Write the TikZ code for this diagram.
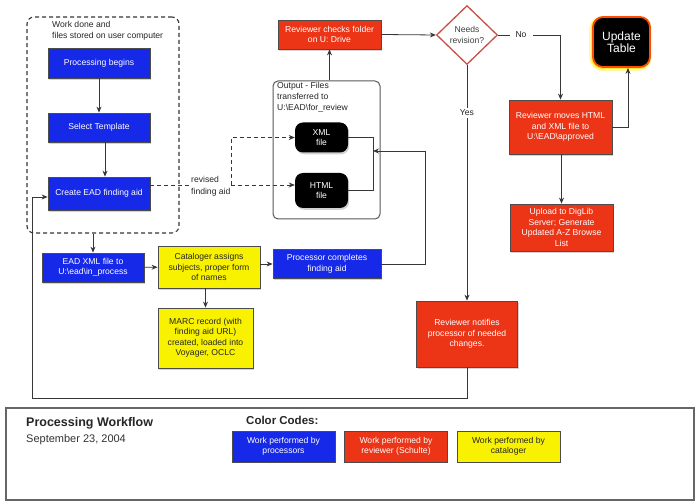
\documentclass[tikz,border=0pt]{standalone}
\usepackage{fontspec}
\setmainfont{Liberation Sans}
\usetikzlibrary{arrows.meta,shapes.geometric,shadows}
\definecolor{pblue}{RGB}{22,40,232}
\definecolor{pred}{RGB}{236,52,22}
\definecolor{pyel}{RGB}{248,242,0}
\definecolor{lineg}{RGB}{55,55,55}
\definecolor{diared}{RGB}{200,80,70}
\newcommand\boxfont{\fontsize{8.6}{10.5}\selectfont}
\begin{document}
\begin{tikzpicture}[x=1pt,y=-1pt,
  box/.style={draw=black!70, line width=0.8pt, inner sep=1pt, align=center, font=\boxfont,
    drop shadow={shadow xshift=1.2pt, shadow yshift=-1.8pt, opacity=0.35}},
  bluebox/.style={box, fill=pblue, text=white},
  redbox/.style={box, fill=pred, text=white},
  yelbox/.style={box, fill=pyel, text=black!85},
  legbox/.style={draw=black!70, line width=0.8pt, inner sep=1pt, align=center, font=\boxfont,
    minimum width=103pt, minimum height=31pt},
  filebox/.style={fill=black, rounded corners=8pt, text=white, align=center, font=\boxfont,
    minimum width=53pt, drop shadow={shadow xshift=1.2pt, shadow yshift=-1.8pt, opacity=0.35}},
  ln/.style={draw=lineg, line width=0.8pt},
  arr/.style={ln, -{Stealth[length=6pt,width=5pt]}},
  dasharr/.style={arr, dash pattern=on 4pt off 3pt},
  dashln/.style={ln, dash pattern=on 4pt off 3pt},
  lbl/.style={fill=white, inner sep=2pt, font=\boxfont, text=black!85},
  note/.style={inner sep=0pt, align=left, font=\boxfont, text=black!85}
]
\fill[white] (0,0) rectangle (696,502);
\useasboundingbox (0,0) rectangle (696,502);

% group box (dashed)
\node[draw=lineg, line width=1.1pt, dash pattern=on 4pt off 3pt, rounded corners=7pt,
      minimum width=152pt, minimum height=216pt] (grp) at (103,125) {};
\node[note, anchor=north west, font=\fontsize{8.6}{11.5}\selectfont] (grplbl) at (52,21) {Work done and\\files stored on user computer};

\node[bluebox, minimum width=102pt, minimum height=30pt] (pb) at (99,63) {Processing begins};
\node[bluebox, minimum width=102pt, minimum height=29pt] (st) at (99,127.5) {Select Template};
\node[bluebox, minimum width=102pt, minimum height=33pt] (ce) at (99,193.5) {Create EAD finding aid};

% output box
\node[draw=black!65, line width=1pt, rounded corners=5pt, minimum width=107pt, minimum height=138pt] (out) at (326.5,150) {};
\node[note, anchor=north west, font=\fontsize{8.6}{11}\selectfont] (outlbl) at (277,82) {Output - Files\\transferred to\\U:\textbackslash EAD\textbackslash for\_review};
\node[filebox, minimum height=30pt] (xml) at (321.5,137.5) {XML\\file};
\node[filebox, minimum height=35pt] (html) at (321.5,190.5) {HTML\\file};

\node[redbox, minimum width=103pt, minimum height=29pt] (rc) at (329.5,34.5) {Reviewer checks folder\\on U: Drive};
\node[draw=diared, line width=1.3pt, fill=white, shape=diamond, inner sep=0pt, minimum width=61pt, minimum height=59pt,
      align=center, font=\fontsize{8.6}{11}\selectfont, text=black!75] (dia) at (467,35) {Needs\\revision?};

% update table with glow
\draw[line width=5pt, color=yellow!70!white, rounded corners=11pt, opacity=0.45] (591.5,18.5) rectangle (649,68.5);
\draw[line width=2.5pt, color=yellow!90!orange, rounded corners=10pt, opacity=0.7] (592,18) rectangle (649.5,68);
\node[fill=black, draw=orange!60!red, line width=1.8pt, rounded corners=10pt, minimum width=57pt, minimum height=50pt,
      text=white, align=center, font=\fontsize{12}{12.5}\selectfont] (ut) at (621.5,42) {Update\\Table};

\node[redbox, minimum width=103pt, minimum height=54pt] (rm) at (560.5,127) {Reviewer moves HTML\\and XML file to\\U:\textbackslash EAD\textbackslash approved};
\node[redbox, minimum width=103pt, minimum height=47pt] (up) at (561.5,227.5) {Upload to DigLib\\Server; Generate\\Updated A-Z Browse\\List};

\node[bluebox, minimum width=102pt, minimum height=29pt] (ex) at (93,267.5) {EAD XML file to\\U:\textbackslash ead\textbackslash in\_process};
\node[yelbox, minimum width=102pt, minimum height=42pt] (cat) at (209,267) {Cataloger assigns\\subjects, proper form\\of names};
\node[bluebox, minimum width=108pt, minimum height=29pt] (proc) at (327,264) {Processor completes\\finding aid};
\node[yelbox, minimum width=95pt, minimum height=60pt] (marc) at (205.5,338) {MARC record (with\\finding aid URL)\\created, loaded into\\Voyager, OCLC};
\node[redbox, minimum width=101pt, minimum height=66pt] (rn) at (467,334) {Reviewer notifies\\processor of needed\\changes.};

% connectors
\draw[arr] (pb) -- (st);
\draw[arr] ([xshift=6pt]st.south) -- ([xshift=6pt]ce.north);
\draw[arr] (ex.north |- grp.south) -- (ex.north);
\draw[arr] (ex) -- (cat);
\draw[arr] (cat.east |- proc.west) -- (proc.west);
\draw[arr] (marc.north |- cat.south) -- (marc.north);

% revised finding aid (dashed)
\coordinate (dj) at (231,185);
\node[note, anchor=west, font=\fontsize{8.6}{12.5}\selectfont] (rev) at (191,186.5) {revised\\finding aid};
\draw[dashln] (ce.east |- dj) -- ([xshift=-2pt]rev.west |- dj);
\draw[dasharr] (dj) -- (html.west |- dj);
\draw[dasharr] (dj) |- (xml.west);

% join of xml/html
\coordinate (jx) at (373,137.5);
\draw[ln] (xml.east) -- (jx) -- (jx |- html.east) -- (html.east);
\coordinate (pj) at (425,151);
\coordinate (jn) at (373,151);
\draw[arr] (proc.east) -| (pj) -- (jn);

\draw[arr] (rc.south |- out.north) -- (rc.south);
\draw[arr] (rc.east) -- (dia.west);
\draw[arr] (dia.east) -| (rm.north);
\node[lbl, inner xsep=6pt] (no) at (521,35) {No};
\draw[arr] (dia.south) -- (rn.north);
\node[lbl] (yes) at (467,113) {Yes};
\draw[arr] (rm.east) -| ([xshift=6.5pt]ut.south);
\draw[arr] (rm.south -| up.north) -- (up.north);

% feedback loop
\coordinate (fb1) at (32,398);
\coordinate (fb2) at (32,197);
\draw[arr] (rn.south) |- (fb1) -- (fb2) -- (ce.west |- fb2);

% legend
\node[draw=black!60, line width=1.2pt, minimum width=688pt, minimum height=92pt] (legend) at (350,454) {};
\node[anchor=west, inner sep=0pt, font=\bfseries\fontsize{12.5}{15}\selectfont, text=black!85] (title) at (26,423) {Processing Workflow};
\node[anchor=west, inner sep=0pt, font=\fontsize{11}{13}\selectfont, text=black!80] (date) at (26,440) {September 23, 2004};
\node[anchor=west, inner sep=0pt, font=\bfseries\fontsize{11.5}{13}\selectfont, text=black!85] (cc) at (246,420) {Color Codes:};
\node[legbox, fill=pblue, text=white] (lb) at (283.5,446.5) {Work performed by\\processors};
\node[legbox, fill=pred, text=white] (lr) at (396,446.5) {Work performed by\\reviewer (Schulte)};
\node[legbox, fill=pyel, text=black!85] (ly) at (508.5,446.5) {Work performed by\\cataloger};
\end{tikzpicture}
\end{document}
